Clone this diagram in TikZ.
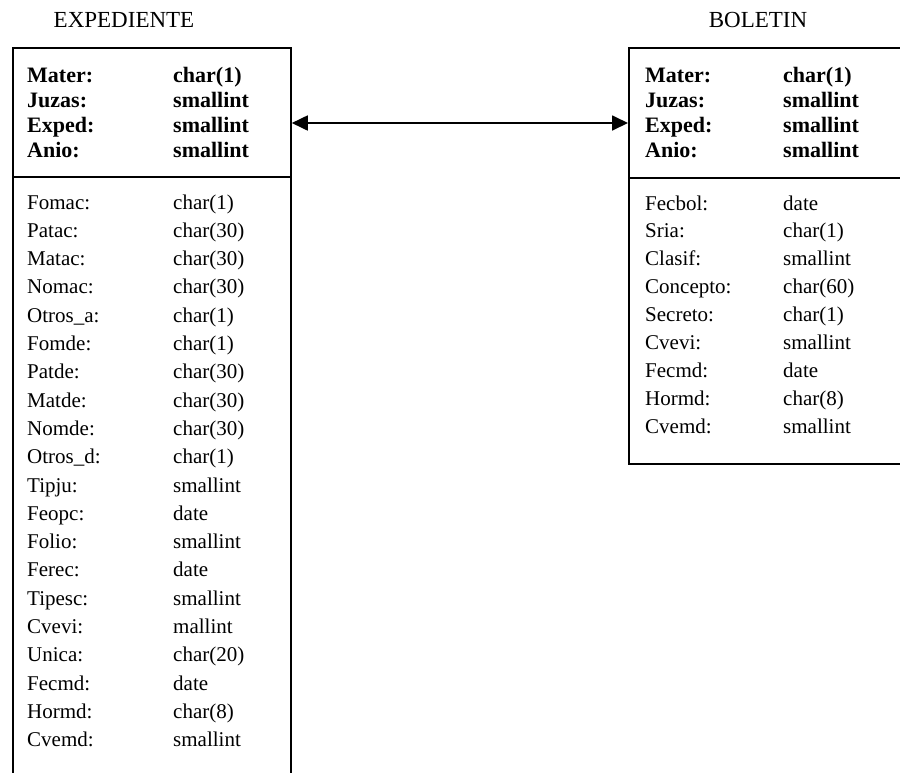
\documentclass[tikz,border=0pt]{standalone}
\usepackage{fontspec}
\setmainfont{Liberation Serif}
\usetikzlibrary{arrows.meta}
\begin{document}
\begin{tikzpicture}[x=1pt,y=-1pt,
  tablebox/.style={draw,line width=1.8pt,rectangle,anchor=north west,inner sep=0pt},
  divider/.style={line width=1.8pt},
  field/.style={anchor=base west,inner sep=0pt,font=\fontsize{21}{21}\selectfont},
  keyfield/.style={field,font=\fontsize{22}{22}\selectfont\bfseries},
  title/.style={anchor=base,inner sep=0pt,font=\fontsize{23}{23}\selectfont},
  link/.style={line width=1.8pt,{Triangle[length=16pt,width=15pt]}-{Triangle[length=16pt,width=15pt]}}]
  \useasboundingbox (0,0) rectangle (900,772);

  % table titles
  \node[title] (exptitle) at (124,27) {EXPEDIENTE};
  \node[title] (boltitle) at (758,27) {BOLETIN};

  % table frames (the left one runs off the bottom, the right one off the side)
  \node[tablebox,minimum width=278pt,minimum height=760pt] (exp) at (12,47) {};
  \node[tablebox,minimum width=302pt,minimum height=416pt] (bol) at (628,47) {};
  \coordinate (expdiv) at (0,177);
  \coordinate (boldiv) at (0,178);
  \draw[divider] (exp.west |- expdiv) -- (exp.east |- expdiv);
  \draw[divider] (bol.west |- boldiv) -- (bol.east |- boldiv);

  % key fields, shared by both tables
  \foreach \fname/\ftype [count=\i from 0] in
    {Mater:/char(1), Juzas:/smallint, Exped:/smallint, Anio:/smallint} {
    \node[keyfield] (ekl\i) at (27,{82+\i*25}) {\fname};
    \node[keyfield] (ekt\i) at (173,{82+\i*25}) {\ftype};
    \node[keyfield] (bkl\i) at (645,{82+\i*25}) {\fname};
    \node[keyfield] (bkt\i) at (783,{82+\i*25}) {\ftype};
  }

  % EXPEDIENTE data fields
  \foreach \fname/\ftype [count=\i from 0] in
    {Fomac:/char(1), Patac:/char(30), Matac:/char(30), Nomac:/char(30),
     Otros\_a:/char(1), Fomde:/char(1), Patde:/char(30), Matde:/char(30),
     Nomde:/char(30), Otros\_d:/char(1), Tipju:/smallint, Feopc:/date,
     Folio:/smallint, Ferec:/date, Tipesc:/smallint, Cvevi:/mallint,
     Unica:/char(20), Fecmd:/date, Hormd:/char(8), Cvemd:/smallint} {
    \node[field] (el\i) at (27,{209+\i*28.3}) {\fname};
    \node[field] (et\i) at (173,{209+\i*28.3}) {\ftype};
  }

  % BOLETIN data fields
  \foreach \fname/\ftype [count=\i from 0] in
    {Fecbol:/date, Sria:/char(1), Clasif:/smallint, Concepto:/char(60),
     Secreto:/char(1), Cvevi:/smallint, Fecmd:/date, Hormd:/char(8),
     Cvemd:/smallint} {
    \node[field] (bl\i) at (645,{210+\i*27.9}) {\fname};
    \node[field] (bt\i) at (783,{210+\i*27.9}) {\ftype};
  }

  % relationship between the two tables
  \coordinate (linkrow) at (0,123);
  \draw[link] (exp.east |- linkrow) -- (bol.west |- linkrow);
\end{tikzpicture}
\end{document}
